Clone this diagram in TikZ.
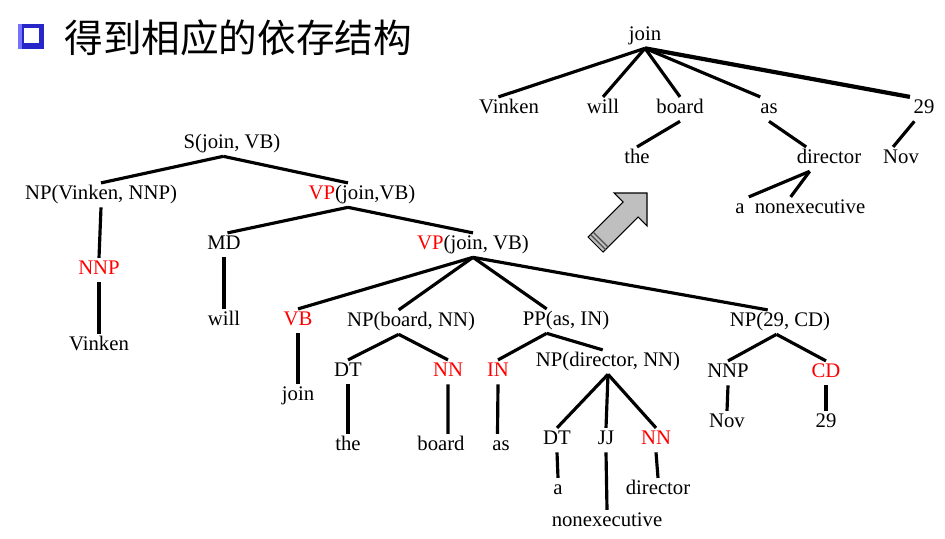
\documentclass[tikz,border=0pt]{standalone}
\usepackage{fontspec}
\usepackage{xcolor}
\setmainfont{Liberation Serif}
\newfontfamily\cjk{Noto Sans CJK SC}

\begin{document}
\begin{tikzpicture}[x=0.02cm, y=-0.02cm,
    lbl/.style={inner sep=1.5pt, yshift=-1.2pt, text height=8pt, text depth=2.5pt, font=\fontsize{11.8}{14}\selectfont},
    tag/.style={lbl, text=red},
    edge/.style={black, line width=1.8pt}]
    \useasboundingbox (0,0) rectangle (945,538);
    % title
    \fill[white] (0,0) rectangle (945,538);
    \fill[blue!75!black!85] (18,24) rectangle (44,49);
    \fill[blue!55] (18,24) rectangle (22,49);
    \fill[white] (24,28) rectangle (39,43);
    \node[anchor=west, inner sep=0pt, font=\cjk\fontsize{22}{26}\selectfont] (title) at (64,38) {得到相应的依存结构};
    % dependency tree
    \node[lbl] (djoin) at (645,34) {join};
    \node[lbl] (dvinken) at (509,107) {Vinken};
    \node[lbl] (dwill) at (603,107) {will};
    \node[lbl] (dboard) at (680,107) {board};
    \node[lbl] (das) at (769,107) {as};
    \node[lbl] (dnum) at (924,107) {29};
    \node[lbl] (dthe) at (637,157) {the};
    \node[lbl] (ddirector) at (829,157) {director};
    \node[lbl] (dnov) at (901,157) {Nov};
    \node[lbl] (da) at (740,207) {a};
    \node[lbl] (dnonexec) at (810,207) {nonexecutive};
    \draw[edge] (djoin.south) -- ([xshift=-6pt]dvinken.north);
    \draw[edge] (djoin.south) -- (dwill.north);
    \draw[edge] (djoin.south) -- (dboard.north);
    \draw[edge] (djoin.south) -- ([xshift=-5pt]das.north);
    \draw[edge, line width=2.4pt] (djoin.south) -- ([xshift=-8pt]dnum.north);
    \draw[edge] (dboard.south) -- (dthe.north);
    \draw[edge] (das.south) -- ([xshift=-13pt]ddirector.north);
    \draw[edge] ([xshift=-5.5pt]dnum.south) -- ([xshift=-4.5pt]dnov.north);
    \draw[edge] ([xshift=-11pt]ddirector.south) -- ([xshift=5pt]da.north);
    \draw[edge] ([xshift=-11pt]ddirector.south) -- ([xshift=-11pt]dnonexec.north);
    % arrow
    \filldraw[fill=black!25, draw=black, line width=0.6pt] (647,193) -- (614,193) -- (623,202) -- (588,237)
        -- (603,252) -- (638,217) -- (647,226) -- cycle;
    \foreach \k in {2.5,5} \draw[black!70, line width=0.8pt] (588+\k,237-\k) -- (603+\k,252-\k);
    % constituency tree
    \node[lbl] (s) at (232,142) {S(join, VB)};
    \node[lbl] (npvinken) at (101,193) {NP(Vinken, NNP)};
    \node[lbl] (vpa) at (362,193) {\textcolor{red}{VP}(join,VB)};
    \node[tag] (nnp) at (99,268) {NNP};
    \node[lbl] (vinken) at (99,344) {Vinken};
    \node[lbl] (md) at (224,243) {MD};
    \node[lbl] (vpb) at (473,243) {\textcolor{red}{VP}(join, VB)};
    \node[lbl] (will) at (224,319) {will};
    \node[tag] (vb) at (298,319) {VB};
    \node[lbl] (npboard) at (411,320) {NP(board, NN)};
    \node[lbl] (ppas) at (566,319) {PP(as, IN)};
    \node[lbl] (npcd) at (780,320) {NP(29, CD)};
    \node[lbl] (joinw) at (298,394) {join};
    \node[lbl] (dta) at (348,370) {DT};
    \node[tag] (nna) at (448,370) {NN};
    \node[tag] (inas) at (498,370) {IN};
    \node[lbl] (npdir) at (608,360) {NP(director, NN)};
    \node[lbl] (nnpb) at (728,371) {NNP};
    \node[tag] (cd) at (826,371) {CD};
    \node[lbl] (the) at (348,444) {the};
    \node[lbl] (board) at (441,444) {board};
    \node[lbl] (as) at (501,444) {as};
    \node[lbl] (dtb) at (557,438) {DT};
    \node[lbl] (jj) at (606,438) {JJ};
    \node[tag] (nnb) at (656,438) {NN};
    \node[lbl] (nov) at (727,421) {Nov};
    \node[lbl] (num) at (826,421) {29};
    \node[lbl] (a) at (558,488) {a};
    \node[lbl] (director) at (658,488) {director};
    \node[lbl] (nonexec) at (607,520) {nonexecutive};
    \draw[edge] ([xshift=-5pt]s.south) -- (npvinken.north);
    \draw[edge] ([xshift=-5pt]s.south) -- ([xshift=-8pt]vpa.north);
    \draw[edge] (npvinken.south) -- (nnp.north);
    \draw[edge] (nnp.south) -- (vinken.north);
    \draw[edge] ([xshift=-8pt]vpa.south) -- ([xshift=2pt]md.north);
    \draw[edge] ([xshift=-8pt]vpa.south) -- (vpb.north);
    \draw[edge] (md.south) -- (will.north);
    \draw[edge] (vpb.south) -- (vb.north);
    \draw[edge] (vpb.south) -- ([xshift=-7pt]npboard.north);
    \draw[edge] (vpb.south) -- ([xshift=-11pt]ppas.north);
    \draw[edge] (vpb.south) -- ([xshift=-7pt]npcd.north);
    \draw[edge] (vb.south) -- (joinw.north);
    \draw[edge] ([xshift=-7pt]npboard.south) -- (dta.north);
    \draw[edge] ([xshift=-7pt]npboard.south) -- (nna.north);
    \draw[edge] (dta.south) -- (the.north);
    \draw[edge] (nna.south) -- ([xshift=4pt]board.north);
    \draw[edge] ([xshift=-11pt]ppas.south) -- (inas.north);
    \draw[edge] ([xshift=-11pt]ppas.south) -- ([xshift=-3pt]npdir.north);
    \draw[edge] (inas.south) -- ([xshift=-2pt]as.north);
    \draw[edge] (npdir.south) -- (dtb.north);
    \draw[edge] (npdir.south) -- (jj.north);
    \draw[edge] (npdir.south) -- (nnb.north);
    \draw[edge] (dtb.south) -- (a.north);
    \draw[edge] (jj.south) -- (nonexec.north);
    \draw[edge] (nnb.south) -- (director.north);
    \draw[edge] ([xshift=-2pt]npcd.south) -- (nnpb.north);
    \draw[edge] ([xshift=-2pt]npcd.south) -- (cd.north);
    \draw[edge] (nnpb.south) -- (nov.north);
    \draw[edge] (cd.south) -- (num.north);
\end{tikzpicture}
\end{document}
